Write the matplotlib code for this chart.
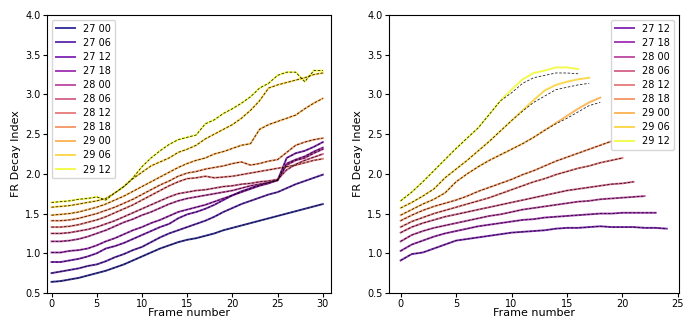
import numpy as np
import matplotlib.pyplot as plt

# left panel: frames 0..30, one series per time
labels_left = ['27 00', '27 06', '27 12', '27 18', '28 00', '28 06',
               '28 12', '28 18', '29 00', '29 06', '29 12']
frames_left = np.arange(31)

d2700 = [0.64, 0.65, 0.67, 0.69, 0.72, 0.75, 0.78, 0.82, 0.86, 0.91, 0.96, 1.01, 1.06, 1.10, 1.14, 1.17,
         1.19, 1.22, 1.25, 1.29, 1.32, 1.35, 1.38, 1.41, 1.44, 1.47, 1.50, 1.53, 1.56, 1.59, 1.62]
d2706 = [0.75, 0.77, 0.79, 0.81, 0.84, 0.86, 0.90, 0.95, 0.99, 1.04, 1.08, 1.14, 1.20, 1.25, 1.29, 1.33,
         1.37, 1.41, 1.46, 1.52, 1.57, 1.62, 1.66, 1.70, 1.74, 1.77, 1.82, 1.87, 1.91, 1.95, 1.99]
d2712 = [0.89, 0.89, 0.91, 0.93, 0.96, 1.00, 1.06, 1.09, 1.13, 1.18, 1.23, 1.28, 1.33, 1.37, 1.44, 1.49,
         1.52, 1.56, 1.61, 1.67, 1.73, 1.78, 1.82, 1.86, 1.89, 1.92, 2.20, 2.26, 2.29, 2.34, 2.40]
d2718 = [1.01, 1.01, 1.03, 1.04, 1.06, 1.10, 1.15, 1.19, 1.24, 1.29, 1.33, 1.38, 1.42, 1.47, 1.52, 1.55,
         1.58, 1.61, 1.65, 1.69, 1.73, 1.77, 1.81, 1.85, 1.88, 1.92, 2.13, 2.18, 2.22, 2.28, 2.33]
d2800 = [1.15, 1.15, 1.16, 1.18, 1.21, 1.25, 1.29, 1.34, 1.39, 1.43, 1.48, 1.52, 1.57, 1.62, 1.66, 1.69,
         1.71, 1.73, 1.75, 1.77, 1.79, 1.82, 1.85, 1.87, 1.89, 1.92, 2.11, 2.17, 2.20, 2.26, 2.31]
d2806 = [1.25, 1.25, 1.26, 1.28, 1.30, 1.33, 1.37, 1.41, 1.46, 1.51, 1.56, 1.61, 1.66, 1.71, 1.75, 1.77,
         1.79, 1.80, 1.82, 1.84, 1.85, 1.87, 1.88, 1.90, 1.91, 1.93, 2.05, 2.12, 2.17, 2.21, 2.25]
d2812 = [1.33, 1.33, 1.34, 1.36, 1.39, 1.42, 1.46, 1.51, 1.56, 1.61, 1.67, 1.73, 1.79, 1.85, 1.90, 1.94,
         1.95, 1.97, 1.95, 1.96, 1.97, 1.99, 2.01, 2.03, 2.05, 2.07, 2.09, 2.11, 2.14, 2.17, 2.19]
d2818 = [1.41, 1.41, 1.42, 1.44, 1.47, 1.50, 1.54, 1.58, 1.63, 1.68, 1.74, 1.80, 1.86, 1.91, 1.97, 2.01,
         2.03, 2.06, 2.08, 2.10, 2.13, 2.15, 2.11, 2.13, 2.16, 2.18, 2.27, 2.36, 2.40, 2.43, 2.45]
d2900 = [1.48, 1.49, 1.50, 1.52, 1.55, 1.58, 1.62, 1.67, 1.72, 1.78, 1.84, 1.90, 1.96, 2.02, 2.08, 2.13,
         2.17, 2.20, 2.25, 2.28, 2.32, 2.36, 2.38, 2.56, 2.62, 2.66, 2.70, 2.74, 2.82, 2.89, 2.95]
d2906 = [1.58, 1.59, 1.60, 1.62, 1.64, 1.66, 1.69, 1.76, 1.84, 1.94, 2.02, 2.10, 2.15, 2.20, 2.27, 2.31,
         2.36, 2.44, 2.50, 2.56, 2.62, 2.70, 2.80, 2.92, 3.08, 3.12, 3.15, 3.18, 3.21, 3.25, 3.27]
d2912 = [1.64, 1.65, 1.66, 1.68, 1.69, 1.71, 1.67, 1.76, 1.84, 1.95, 2.09, 2.20, 2.29, 2.37, 2.43, 2.46,
         2.49, 2.63, 2.68, 2.76, 2.82, 2.89, 2.97, 3.08, 3.14, 3.24, 3.28, 3.28, 3.16, 3.30, 3.30]
series_left = [d2700, d2706, d2712, d2718, d2800, d2806, d2812, d2818, d2900, d2906, d2912]

# right panel: shorter runs, plus fitted (dashed) values where they split off
labels_right = ['27 12', '27 18', '28 00', '28 06', '28 12', '28 18', '29 00', '29 06', '29 12']
r2712 = [0.91, 0.99, 1.01, 1.06, 1.11, 1.16, 1.18, 1.20, 1.22, 1.24, 1.26, 1.27, 1.28,
         1.29, 1.31, 1.32, 1.32, 1.33, 1.34, 1.33, 1.33, 1.33, 1.32, 1.32, 1.31]
r2718 = [1.03, 1.11, 1.16, 1.21, 1.25, 1.28, 1.31, 1.34, 1.36, 1.38, 1.40, 1.42, 1.43,
         1.45, 1.46, 1.47, 1.48, 1.49, 1.50, 1.50, 1.51, 1.51, 1.51, 1.51]
r2800 = [1.15, 1.23, 1.28, 1.32, 1.35, 1.38, 1.41, 1.44, 1.47, 1.49, 1.52, 1.55, 1.57,
         1.59, 1.61, 1.63, 1.65, 1.66, 1.68, 1.69, 1.70, 1.71, 1.72]
r2806 = [1.26, 1.33, 1.38, 1.42, 1.46, 1.49, 1.52, 1.55, 1.58, 1.61, 1.64, 1.67, 1.70,
         1.73, 1.76, 1.79, 1.81, 1.83, 1.85, 1.87, 1.88, 1.90]
r2812 = [1.33, 1.40, 1.45, 1.50, 1.54, 1.58, 1.62, 1.66, 1.70, 1.75, 1.80, 1.85, 1.90,
         1.94, 1.99, 2.03, 2.07, 2.10, 2.14, 2.17, 2.20]
r2818 = [1.41, 1.48, 1.54, 1.59, 1.63, 1.67, 1.72, 1.78, 1.83, 1.88, 1.93, 1.99, 2.04,
         2.10, 2.16, 2.21, 2.26, 2.31, 2.36, 2.41]
r2900 = [1.48, 1.55, 1.62, 1.68, 1.76, 1.90, 2.00, 2.09, 2.17, 2.24, 2.31, 2.38, 2.46,
         2.55, 2.64, 2.73, 2.82, 2.90, 2.96]
r2906 = [1.57, 1.64, 1.72, 1.81, 1.95, 2.06, 2.17, 2.29, 2.41, 2.54, 2.67, 2.80, 2.93,
         3.05, 3.12, 3.16, 3.19, 3.21]
r2912 = [1.66, 1.77, 1.90, 2.04, 2.18, 2.32, 2.45, 2.58, 2.75, 2.92, 3.06, 3.19, 3.27,
         3.30, 3.34, 3.34, 3.32]
f2900 = [1.48, 1.55, 1.62, 1.68, 1.76, 1.90, 2.00, 2.09, 2.17, 2.24, 2.31, 2.38, 2.46,
         2.55, 2.63, 2.70, 2.78, 2.86, 2.90]
f2906 = [1.57, 1.64, 1.72, 1.81, 1.95, 2.06, 2.17, 2.29, 2.41, 2.54, 2.67, 2.79, 2.90,
         2.98, 3.06, 3.09, 3.12, 3.14]
f2912 = [1.66, 1.77, 1.90, 2.04, 2.18, 2.32, 2.45, 2.58, 2.75, 2.92, 3.02, 3.14, 3.21,
         3.24, 3.27, 3.27, 3.26]
series_right = [r2712, r2718, r2800, r2806, r2812, r2818, r2900, r2906, r2912]
fits_right = [r2712, r2718, r2800, r2806, r2812, r2818, f2900, f2906, f2912]

plt.rcParams['font.size'] = 7

fig = plt.figure(figsize=(6.83, 3.2), dpi=100)
ax1 = fig.add_axes([47/683, 27/320, 284/683, 278/320])
ax2 = fig.add_axes([389/683, 27/320, 290/683, 278/320])

cols_left = plt.cm.plasma(np.linspace(0, 1, len(series_left)))
for lab, y, c in zip(labels_left, series_left, cols_left):
    ax1.plot(frames_left, y, color=c, lw=1.4, alpha=0.8, label=lab)
for y in series_left:
    ax1.plot(frames_left, y, 'k--', lw=0.6, alpha=0.85, dashes=(3, 2))

cols_right = plt.cm.plasma(np.linspace(0.2, 1, len(series_right)))
for lab, y, c in zip(labels_right, series_right, cols_right):
    ax2.plot(np.arange(len(y)), y, color=c, lw=1.4, alpha=0.8, label=lab)
for y in fits_right:
    ax2.plot(np.arange(len(y)), y, 'k--', lw=0.6, alpha=0.85, dashes=(3, 2))

ax1.set_xlim(-0.5, 30.9)
ax2.set_xlim(-1.05, 25.1)
for ax in (ax1, ax2):
    ax.set_ylim(0.5, 4.0)
    ax.set_xlabel('Frame number', fontsize=8, labelpad=-1)
    ax.set_ylabel('FR Decay Index', fontsize=8, labelpad=3)
    ax.tick_params(labelsize=7, length=3, pad=1.5)

ax1.legend(loc='upper left', fontsize=7, handlelength=2.0, labelspacing=0.42)
ax2.legend(loc='upper right', fontsize=7, handlelength=2.0, labelspacing=0.42)

fig.savefig('out.png', dpi=100)
